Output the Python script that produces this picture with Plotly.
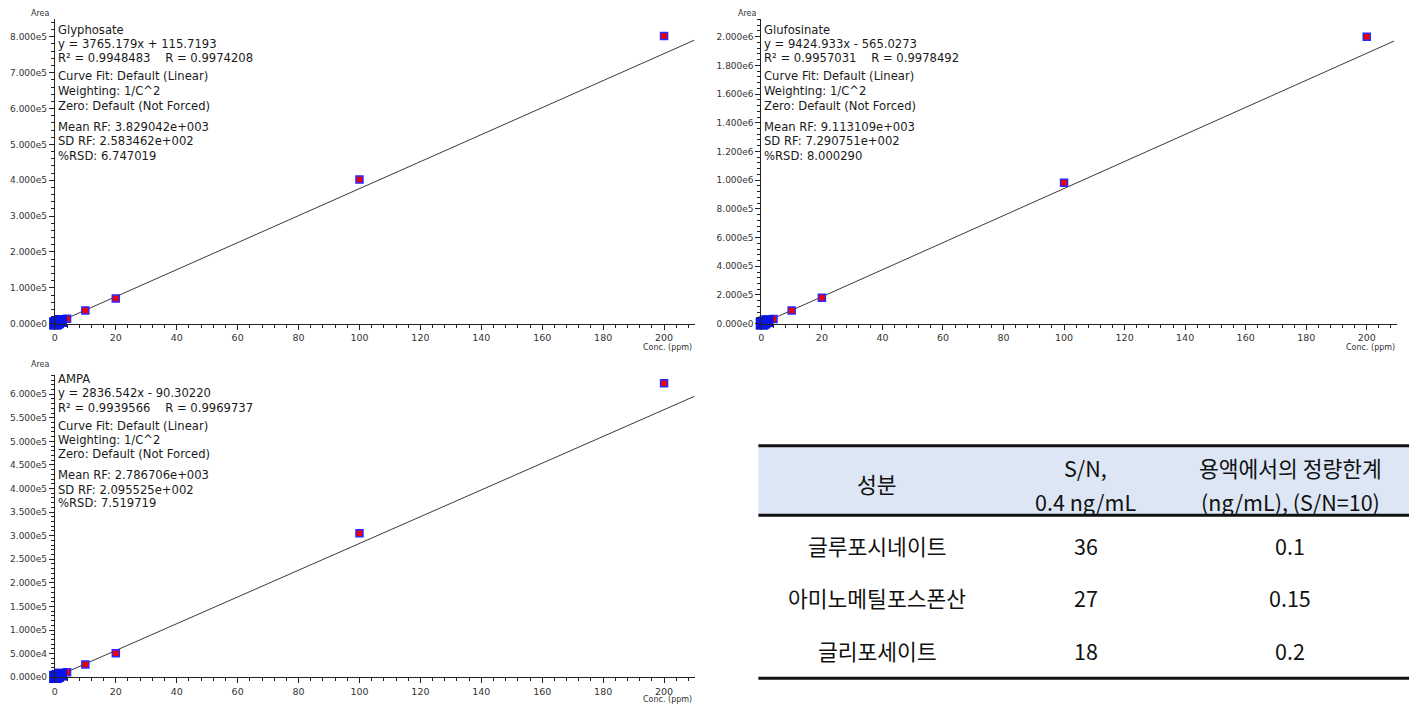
import plotly.graph_objects as go

W, H = 1409, 709

# ---------------- data ----------------
# Glyphosate calibration (top-left)
gly_low_x = [0.1, 0.2, 0.5, 1, 2]
gly_low_y = [400, 800, 2000, 4000, 7500]
gly_x = [4, 10, 20, 100, 200]
gly_y = [14000, 37000, 70000, 402000, 802000]
gly_fit_x = [0, 210]
gly_fit_y = [116, 790800]
gly_text = ["Glyphosate", "y = 3765.179x + 115.7193",
            "R\u00b2 = 0.9948483\u00a0\u00a0\u00a0\u00a0R = 0.9974208",
            "Curve Fit: Default (Linear)", "Weighting: 1/C^2",
            "Zero: Default (Not Forced)", "Mean RF: 3.829042e+003",
            "SD RF: 2.583462e+002", "%RSD: 6.747019"]
gly_yticks = [0, 1e5, 2e5, 3e5, 4e5, 5e5, 6e5, 7e5, 8e5]
gly_yticktext = ["0.000e0", "1.000e5", "2.000e5", "3.000e5", "4.000e5",
                 "5.000e5", "6.000e5", "7.000e5", "8.000e5"]

# Glufosinate calibration (top-right)
glu_low_x = [0.1, 0.2, 0.5, 1, 2]
glu_low_y = [1000, 2000, 4500, 9000, 18000]
glu_x = [4, 10, 20, 100, 200]
glu_y = [32000, 92000, 180000, 983000, 2000000]
glu_fit_x = [0, 209]
glu_fit_y = [-565, 1969200]
glu_text = ["Glufosinate", "y = 9424.933x - 565.0273",
            "R\u00b2 = 0.9957031\u00a0\u00a0\u00a0\u00a0R = 0.9978492",
            "Curve Fit: Default (Linear)", "Weighting: 1/C^2",
            "Zero: Default (Not Forced)", "Mean RF: 9.113109e+003",
            "SD RF: 7.290751e+002", "%RSD: 8.000290"]
glu_yticks = [0, 2e5, 4e5, 6e5, 8e5, 1e6, 1.2e6, 1.4e6, 1.6e6, 1.8e6, 2e6]
glu_yticktext = ["0.000e0", "2.000e5", "4.000e5", "6.000e5", "8.000e5",
                 "1.000e6", "1.200e6", "1.400e6", "1.600e6", "1.800e6", "2.000e6"]

# AMPA calibration (bottom-left)
amp_low_x = [0.1, 0.2, 0.5, 1, 2]
amp_low_y = [300, 600, 1400, 2800, 5500]
amp_x = [4, 10, 20, 100, 200]
amp_y = [10500, 27000, 50500, 305000, 623000]
amp_fit_x = [0, 210]
amp_fit_y = [-90, 595600]
amp_text = ["AMPA", "y = 2836.542x - 90.30220",
            "R\u00b2 = 0.9939566\u00a0\u00a0\u00a0\u00a0R = 0.9969737",
            "Curve Fit: Default (Linear)", "Weighting: 1/C^2",
            "Zero: Default (Not Forced)", "Mean RF: 2.786706e+003",
            "SD RF: 2.095525e+002", "%RSD: 7.519719"]
amp_yticks = [i * 5e4 for i in range(13)]
amp_yticktext = ["0.000e0", "5.000e4", "1.000e5", "1.500e5", "2.000e5",
                 "2.500e5", "3.000e5", "3.500e5", "4.000e5", "4.500e5",
                 "5.000e5", "5.500e5", "6.000e5"]

x_ticks = [0, 20, 40, 60, 80, 100, 120, 140, 160, 180, 200]
x_ticktext = [str(v) for v in x_ticks]

# Table
tbl_header = [["성분"], ["S/N,", "0.4 ng/mL"], ["용액에서의 정량한계", "(ng/mL), (S/N=10)"]]
tbl_component = ["글루포시네이트", "아미노메틸포스폰산", "글리포세이트"]
tbl_sn = ["36", "27", "18"]
tbl_loq = ["0.1", "0.15", "0.2"]

# ---------------- figure ----------------
def px(x):
    return x / W

def py(y):
    return 1 - y / H

fig = go.Figure()

panels = [
    dict(xa="x", ya="y", low=(gly_low_x, gly_low_y), pts=(gly_x, gly_y), fit=(gly_fit_x, gly_fit_y)),
    dict(xa="x2", ya="y2", low=(glu_low_x, glu_low_y), pts=(glu_x, glu_y), fit=(glu_fit_x, glu_fit_y)),
    dict(xa="x3", ya="y3", low=(amp_low_x, amp_low_y), pts=(amp_x, amp_y), fit=(amp_fit_x, amp_fit_y)),
]
for p in panels:
    fig.add_trace(go.Scatter(x=p["fit"][0], y=p["fit"][1], mode="lines",
                             line=dict(color="#3a3a3a", width=1),
                             xaxis=p["xa"], yaxis=p["ya"], showlegend=False,
                             cliponaxis=True))
    fig.add_trace(go.Scatter(x=p["pts"][0], y=p["pts"][1], mode="markers",
                             marker=dict(symbol="square", size=7, color="#ee0000",
                                         line=dict(color="#2a2aff", width=1.5)),
                             xaxis=p["xa"], yaxis=p["ya"], showlegend=False,
                             cliponaxis=False))
    fig.add_trace(go.Scatter(x=p["low"][0], y=p["low"][1], mode="markers",
                             marker=dict(symbol="square", size=12, color="#0a14e6",
                                         line=dict(width=0)),
                             xaxis=p["xa"], yaxis=p["ya"], showlegend=False,
                             cliponaxis=False))

tick_font = dict(family="DejaVu Sans", size=9, color="#333333")

def xaxis_cfg(domain):
    return dict(domain=domain, range=[0, 210], tickvals=x_ticks, ticktext=x_ticktext,
                showline=True, linecolor="#222222", linewidth=1, ticks="outside",
                ticklen=5, tickcolor="#222222", showgrid=False, zeroline=False,
                tickfont=dict(family="DejaVu Sans", size=9.5, color="#333333"),
                minor=dict(tick0=0, dtick=4, ticks="outside", ticklen=3,
                           tickcolor="#222222", showgrid=False),
                fixedrange=True)

def yaxis_cfg(domain, rng, tv, tt, mdt, anchor):
    return dict(domain=domain, range=rng, tickvals=tv, ticktext=tt, anchor=anchor,
                showline=True, linecolor="#222222", linewidth=1, ticks="outside",
                ticklen=5, tickcolor="#222222", showgrid=False, zeroline=False,
                tickfont=tick_font,
                minor=dict(tick0=0, dtick=mdt, ticks="outside", ticklen=3,
                           tickcolor="#222222", showgrid=False),
                fixedrange=True)

fig.update_layout(
    width=W, height=H, margin=dict(l=0, r=0, t=0, b=0),
    paper_bgcolor="white", plot_bgcolor="white",
    xaxis=dict(**xaxis_cfg([px(52), px(693)]), anchor="y"),
    yaxis=yaxis_cfg([py(326), py(19)], [0, 8.5e5], gly_yticks, gly_yticktext, 2e4, "x"),
    xaxis2=dict(**xaxis_cfg([px(760), px(1397)]), anchor="y2"),
    yaxis2=yaxis_cfg([py(326), py(19)], [0, 2.124e6], glu_yticks, glu_yticktext, 4e4, "x2"),
    xaxis3=dict(**xaxis_cfg([px(52), px(693)]), anchor="y3"),
    yaxis3=yaxis_cfg([py(682), py(378)], [0, 6.4e5], amp_yticks, amp_yticktext, 1e4, "x3"),
)

annos = []
text_font = dict(family="DejaVu Sans", size=11.6, color="#1a1a1a")

def add_block(lines, x0, ys):
    for t, y in zip(lines, ys):
        annos.append(dict(text=t, x=px(x0), y=py(y), xref="paper", yref="paper",
                          xanchor="left", yanchor="middle", showarrow=False,
                          font=text_font))

top_ys = [30, 44, 58, 77, 92, 107, 128, 142, 157]
add_block(gly_text, 53, top_ys)
add_block(glu_text, 761, top_ys)
add_block(amp_text, 53, [382, 396, 411, 429, 443, 457, 478, 493, 507])

small = dict(family="DejaVu Sans", size=8, color="#333333")
for (xx, yy) in [(38, 14), (746, 14), (38, 367)]:
    annos.append(dict(text="Area", x=px(xx), y=py(yy), xref="paper", yref="paper",
                      xanchor="center", yanchor="middle", showarrow=False, font=small))
for (xx, yy) in [(666, 350), (1370, 350), (666, 704)]:
    annos.append(dict(text="Conc. (ppm)", x=px(xx), y=py(yy), xref="paper", yref="paper",
                      xanchor="center", yanchor="middle", showarrow=False, font=small))

# Table
shapes = []
tx0, tx1 = 757, 1409
shapes.append(dict(type="rect", xref="paper", yref="paper", x0=px(tx0), x1=px(tx1),
                   y0=py(519), y1=py(449), fillcolor="#dce6f4", line=dict(width=0), layer="below"))
for yy in [449, 519, 683]:
    shapes.append(dict(type="line", xref="paper", yref="paper", x0=px(tx0), x1=px(tx1),
                       y0=py(yy), y1=py(yy), line=dict(color="#111111", width=3)))

tfont = dict(family="Noto Sans CJK KR", size=21.5, color="#111111")
col_x = [876, 1085, 1290]
head_y = {1: [487], 2: [471, 505]}
for cx, lines in zip(col_x, tbl_header):
    for t, yy in zip(lines, head_y[len(lines)]):
        annos.append(dict(text=t, x=px(cx), y=py(yy), xref="paper", yref="paper",
                          xanchor="center", yanchor="middle", showarrow=False, font=tfont))
row_y = [549, 602, 655]
for i, yy in enumerate(row_y):
    for cx, col in zip(col_x, [tbl_component, tbl_sn, tbl_loq]):
        annos.append(dict(text=col[i], x=px(cx), y=py(yy), xref="paper", yref="paper",
                          xanchor="center", yanchor="middle", showarrow=False, font=tfont))

fig.update_layout(annotations=annos, shapes=shapes)
fig.write_html("out.html")
